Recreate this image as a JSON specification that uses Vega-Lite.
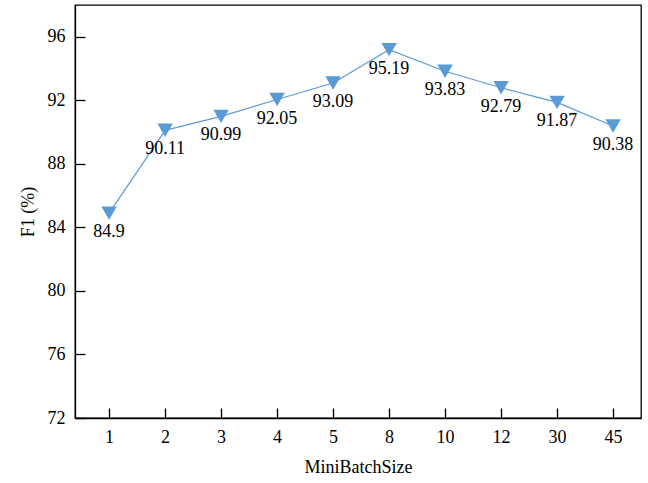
{
  "$schema": "https://vega.github.io/schema/vega-lite/v6.json",
  "width": 566,
  "height": 413,
  "autosize": {"type": "none"},
  "padding": {"left": 75, "top": 5, "right": 7, "bottom": 65},
  "background": "white",
  "config": {
    "view": {"stroke": "black", "strokeWidth": 1.3},
    "font": "Liberation Serif",
    "axis": {
      "labelFont": "Liberation Serif",
      "titleFont": "Liberation Serif",
      "labelFontSize": 18,
      "titleFontSize": 18,
      "labelColor": "black",
      "titleColor": "black",
      "titleFontWeight": "normal",
      "domainColor": "black",
      "tickColor": "black",
      "grid": false,
      "domainWidth": 1.3,
      "tickWidth": 1.3
    }
  },
  "data": {
    "values": [
      {"size": "1", "f1": 84.9},
      {"size": "2", "f1": 90.11},
      {"size": "3", "f1": 90.99},
      {"size": "4", "f1": 92.05},
      {"size": "5", "f1": 93.09},
      {"size": "8", "f1": 95.19},
      {"size": "10", "f1": 93.83},
      {"size": "12", "f1": 92.79},
      {"size": "30", "f1": 91.87},
      {"size": "45", "f1": 90.38}
    ]
  },
  "encoding": {
    "x": {
      "field": "size",
      "type": "ordinal",
      "sort": null,
      "scale": {"type": "point", "padding": 0.5536, "align": 0.55},
      "axis": {"title": "MiniBatchSize", "labelAngle": 0, "tickSize": -10, "labelPadding": 20, "titlePadding": 12}
    },
    "y": {
      "field": "f1",
      "type": "quantitative",
      "scale": {"domain": [72, 98], "nice": false, "zero": false},
      "axis": {"title": "F1 (%)", "values": [72, 76, 80, 84, 88, 92, 96], "tickSize": -10, "labelPadding": 20, "titlePadding": 10}
    }
  },
  "layer": [
    {"mark": {"type": "line", "color": "#5B9BD5", "strokeWidth": 1.2}},
    {"mark": {"type": "point", "shape": "triangle-down", "filled": true, "opacity": 1, "color": "#5B9BD5", "size": 240}},
    {"mark": {"type": "text", "dy": 19, "fontSize": 18, "font": "Liberation Serif", "color": "black", "baseline": "middle"}, "encoding": {"text": {"field": "f1", "type": "nominal"}}}
  ]
}
